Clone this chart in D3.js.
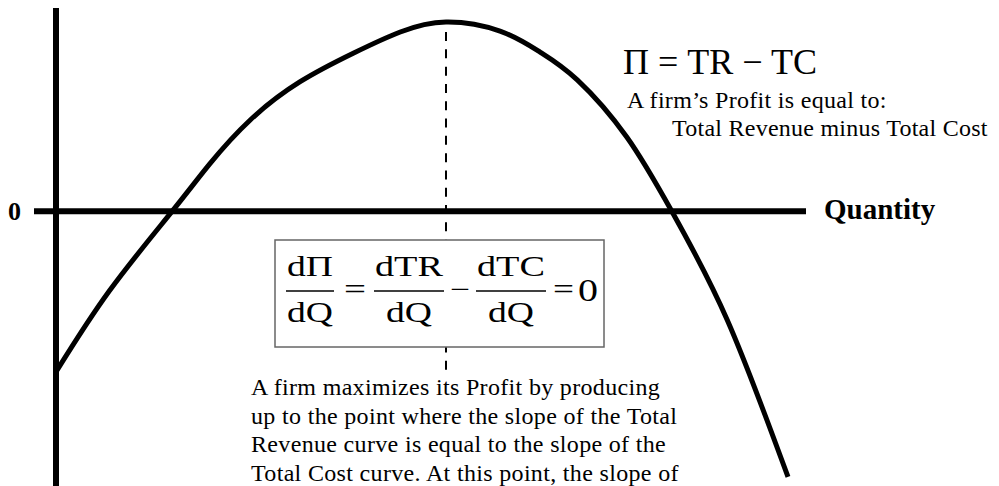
<!DOCTYPE html>
<html>
<head>
<meta charset="utf-8">
<script src="https://cdn.jsdelivr.net/npm/d3@7"></script>
<style>
  html, body { margin: 0; padding: 0; background: #fff; }
  svg { display: block; }
  text { font-family: "Liberation Serif", "Times New Roman", serif; fill: #000; }
</style>
</head>
<body>
<svg id="chart" width="999" height="486"></svg>
<script>
// ---- data ----
const quantity = [0, 7.2, 15.5, 20.5, 25.9, 32.5, 39.7, 45.9, 52, 59.2, 64.5, 69.5, 76.1, 82.1, 89.5, 97.6];
const profit   = [-85, -41.7, 0, 25, 48.2, 68.3, 83.6, 94.7, 100, 95.2, 84.2, 69.4, 39.2, 0, -57.5, -140.5];
const maxProfitQ = 52;
const dashRange = [94.7, -83.9];
const xAxisLabel = "Quantity";
const yZeroLabel = "0";
const profitFormula = "\u03A0 = TR \u2212 TC";
const profitNote = ["A firm\u2019s Profit is equal to:", "Total Revenue minus Total Cost"];
const maxNote = [
  "A firm maximizes its Profit by producing",
  "up to the point where the slope of the Total",
  "Revenue curve is equal to the slope of the",
  "Total Cost curve. At this point, the slope of"
];
const fractions = [
  {num: "d\u03A0", den: "dQ"},
  {num: "dTR", den: "dQ"},
  {num: "dTC", den: "dQ"}
];
const operators = ["=", "\u2212", "=", "0"];

// ---- scales ----
const svg = d3.select("#chart");
const x = d3.scaleLinear().domain([0, 100]).range([56, 806]);
const y = d3.scaleLinear().domain([-140, 100]).range([476, 22]);

// ---- axes ----
const axes = svg.append("g");
axes.append("line")
  .attr("x1", x(0)).attr("x2", x(0))
  .attr("y1", 8).attr("y2", 486)
  .attr("stroke", "#000").attr("stroke-width", 6);
axes.append("line")
  .attr("x1", 34).attr("x2", x(100))
  .attr("y1", y(0)).attr("y2", y(0))
  .attr("stroke", "#000").attr("stroke-width", 6);

svg.append("text")
  .attr("x", 8).attr("y", y(0) + 9)
  .attr("font-size", 26).attr("font-weight", "bold")
  .text(yZeroLabel);
svg.append("text")
  .attr("x", 824).attr("y", y(0) + 8)
  .attr("font-size", 29).attr("font-weight", "bold")
  .text(xAxisLabel);

// ---- dashed line at the profit maximum ----
svg.append("line")
  .attr("x1", x(maxProfitQ)).attr("x2", x(maxProfitQ))
  .attr("y1", y(dashRange[0])).attr("y2", y(dashRange[1]))
  .attr("stroke", "#000").attr("stroke-width", 2)
  .attr("stroke-dasharray", "9,8.3");

// ---- profit curve ----
const pts = quantity.map((q, i) => [q, profit[i]]);
svg.append("path")
  .datum(pts)
  .attr("fill", "none")
  .attr("stroke", "#000")
  .attr("stroke-width", 5)
  .attr("d", d3.line().x(d => x(d[0])).y(d => y(d[1])).curve(d3.curveNatural));

// ---- equation box ----
const box = svg.append("g");
box.append("rect")
  .attr("x", 275).attr("y", 240).attr("width", 329).attr("height", 107)
  .attr("fill", "#fff").attr("stroke", "#666").attr("stroke-width", 1.5);

const fracCenters = [310, 409, 511];
const fracWidths = [46, 68, 68];
const lineY = 291;
const eqSize = 29;
fractions.forEach((f, i) => {
  const g = box.append("g");
  g.append("text").attr("x", fracCenters[i] - fracWidths[i] / 2).attr("y", lineY - 15)
    .attr("font-size", eqSize)
    .attr("textLength", fracWidths[i]).attr("lengthAdjust", "spacingAndGlyphs")
    .text(f.num);
  g.append("line")
    .attr("x1", fracCenters[i] - fracWidths[i] / 2 - 1).attr("x2", fracCenters[i] + fracWidths[i] / 2 + 1)
    .attr("y1", lineY).attr("y2", lineY)
    .attr("stroke", "#000").attr("stroke-width", 1.3);
  g.append("text").attr("x", fracCenters[i] - 46 / 2).attr("y", lineY + 31)
    .attr("font-size", eqSize)
    .attr("textLength", 46).attr("lengthAdjust", "spacingAndGlyphs")
    .text(f.den);
});
const opX = [344, 450, 553, 578];
const opW = [22, 20, 21, 20];
operators.forEach((o, i) => {
  box.append("text").attr("x", opX[i]).attr("y", lineY + (i === 3 ? 10 : 8))
    .attr("font-size", i === 3 ? 32 : eqSize)
    .attr("textLength", opW[i]).attr("lengthAdjust", "spacingAndGlyphs")
    .text(o);
});

// ---- annotations ----
svg.append("text").attr("x", 623).attr("y", 74).attr("font-size", 36).text(profitFormula);
svg.append("text").attr("x", 627).attr("y", 108).attr("font-size", 24).attr("letter-spacing", 0.3).text(profitNote[0]);
svg.append("text").attr("x", 672).attr("y", 136).attr("font-size", 24).attr("letter-spacing", 0.25).text(profitNote[1]);

svg.append("g").selectAll("text").data(maxNote).join("text")
  .attr("x", 251)
  .attr("y", (d, i) => 395 + i * 28.6)
  .attr("font-size", 24)
  .attr("letter-spacing", 0.33)
  .text(d => d);
</script>
</body>
</html>
